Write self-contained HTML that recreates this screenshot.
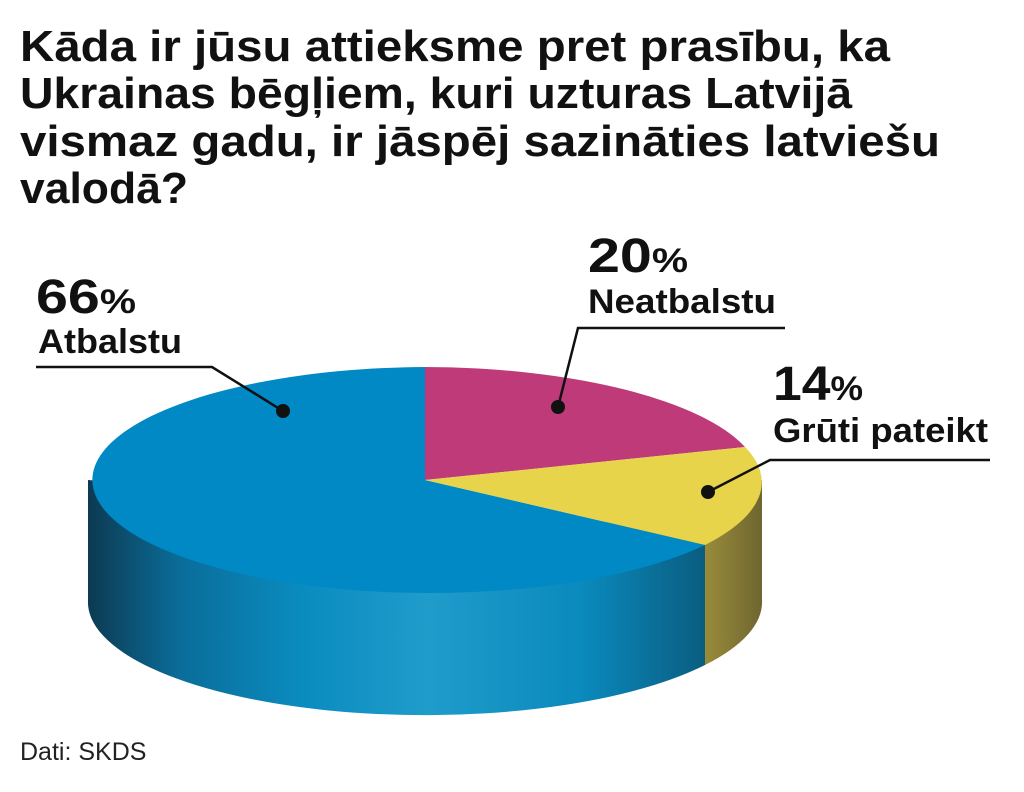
<!DOCTYPE html>
<html><head><meta charset="utf-8"><style>
html,body{margin:0;padding:0;background:#fff;}
svg{display:block;font-family:"Liberation Sans",sans-serif;}
</style></head><body>
<svg width="1024" height="792" viewBox="0 0 1024 792" xmlns="http://www.w3.org/2000/svg">
<defs>
<linearGradient id="bs" x1="88" y1="0" x2="705" y2="0" gradientUnits="userSpaceOnUse">
<stop offset="0" stop-color="#0d3a52"/>
<stop offset="0.15" stop-color="#0a6d9a"/>
<stop offset="0.35" stop-color="#0a8cc0"/>
<stop offset="0.55" stop-color="#1f9cca"/>
<stop offset="0.8" stop-color="#0a8abd"/>
<stop offset="1" stop-color="#0a5d80"/>
</linearGradient>
<linearGradient id="ys" x1="705" y1="0" x2="762" y2="0" gradientUnits="userSpaceOnUse">
<stop offset="0" stop-color="#9a8b3a"/>
<stop offset="1" stop-color="#6e6630"/>
</linearGradient>
</defs>
<g font-weight="bold" font-size="44" fill="#111">
<text x="20" y="61" textLength="870" lengthAdjust="spacingAndGlyphs">Kāda ir jūsu attieksme pret prasību, ka</text>
<text x="20" y="108" textLength="832" lengthAdjust="spacingAndGlyphs">Ukrainas bēgļiem, kuri uzturas Latvijā</text>
<text x="20" y="156" textLength="920" lengthAdjust="spacingAndGlyphs">vismaz gadu, ir jāspēj sazināties latviešu</text>
<text x="20" y="203" textLength="168" lengthAdjust="spacingAndGlyphs">valodā?</text>
</g>
<path d="M88,480 L88,600 A337,113 0 0,0 705,665 L705,530 Z" fill="url(#bs)"/>
<path d="M705,530 L705,665 A337,113 0 0,0 762,600 L762,480 L758,485 Z" fill="url(#ys)"/>
<path d="M425,480 L425,367 A337,113 0 1,0 705,545 Z" fill="#0089c4"/>
<path d="M425,480 L425,367 A337,113 0 0,1 745,447 Z" fill="#bf3a78"/>
<path d="M425,480 L745,447 A337,113 0 0,1 705,545 Z" fill="#e8d44a"/>
<g fill="#111" font-weight="bold">
<text x="36" y="313" font-size="48" textLength="100" lengthAdjust="spacingAndGlyphs">66<tspan font-size="34">%</tspan></text>
<text x="38" y="353" font-size="34" textLength="144" lengthAdjust="spacingAndGlyphs">Atbalstu</text>
<text x="588" y="272" font-size="48" textLength="100" lengthAdjust="spacingAndGlyphs">20<tspan font-size="34">%</tspan></text>
<text x="588" y="313" font-size="34" textLength="188" lengthAdjust="spacingAndGlyphs">Neatbalstu</text>
<text x="773" y="400" font-size="48" textLength="90" lengthAdjust="spacingAndGlyphs">14<tspan font-size="34">%</tspan></text>
<text x="773" y="442" font-size="34" textLength="215" lengthAdjust="spacingAndGlyphs">Grūti pateikt</text>
</g>
<g stroke="#111" stroke-width="2.5" fill="none">
<polyline points="36,367 212,367 283,411"/>
<polyline points="785,328 578,328 558,407"/>
<polyline points="990,460 770,460 708,492"/>
</g>
<g fill="#111">
<circle cx="283" cy="411" r="7"/>
<circle cx="558" cy="407" r="7"/>
<circle cx="708" cy="492" r="7"/>
</g>
<text x="20" y="760" font-size="25" fill="#222">Dati: SKDS</text>
</svg>
</body></html>
